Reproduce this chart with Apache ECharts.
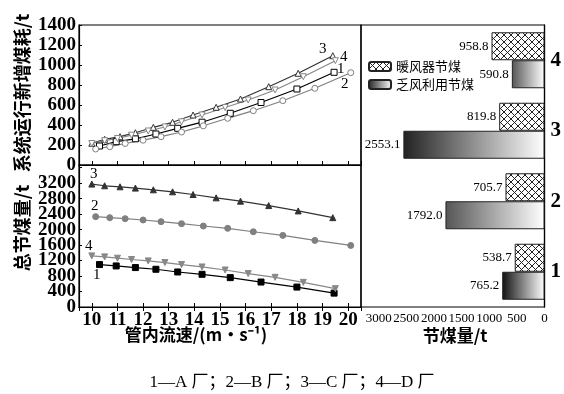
<!DOCTYPE html>
<html>
<head>
<meta charset="utf-8">
<script src="https://cdn.jsdelivr.net/npm/echarts@6/dist/echarts.min.js"></script>
<style>
  html, body { margin: 0; padding: 0; background: #fff; }
  #chart { width: 564px; height: 394px; }
</style>
</head>
<body>
<div id="chart"></div>
<script>
  // 管内流速 (m/s), one list per plant
  const speed1 = [10.3, 10.95, 11.7, 12.5, 13.35, 14.3, 15.4, 16.6, 18.0, 19.45]
  const speed2 = [10.15, 10.7, 11.3, 12.0, 12.7, 13.5, 14.35, 15.3, 16.3, 17.45, 18.7, 20.1]
  const speed3 = [10.0, 10.5, 11.1, 11.7, 12.4, 13.15, 13.95, 14.85, 15.8, 16.9, 18.05, 19.4]
  const speed4 = [10.0, 10.5, 11.0, 11.55, 12.2, 12.85, 13.5, 14.3, 15.2, 16.1, 17.15, 18.25, 19.5]

  // 系统运行新增煤耗 / t
  const addCoal1 = [190, 233, 262, 310, 367, 428, 517, 625, 760, 927]
  const addCoal2 = [160, 183, 215, 248, 283, 330, 392, 467, 543, 643, 767, 923]
  const addCoal3 = [217, 257, 283, 323, 377, 427, 500, 577, 660, 783, 917, 1093]
  const addCoal4 = [215, 243, 265, 298, 340, 380, 432, 500, 575, 650, 750, 883, 1043]

  // 总节煤量 / t
  const saveCoal1 = [1097, 1061, 1019, 975, 905, 845, 759, 645, 515, 359]
  const saveCoal2 = [2335, 2309, 2283, 2249, 2205, 2153, 2093, 2033, 1945, 1851, 1721, 1591]
  const saveCoal3 = [3177, 3133, 3107, 3073, 3029, 2977, 2907, 2821, 2735, 2621, 2483, 2309]
  const saveCoal4 = [1321, 1295, 1261, 1227, 1191, 1149, 1097, 1035, 957, 863, 767, 637, 473]

  // 节煤量 bars
  const plants = ['1', '2', '3', '4']
  const heaterSave = [538.7, 705.7, 819.8, 958.8]
  const exhaustSave = [765.2, 1792.0, 2553.1, 590.8]

  const serif = 'Liberation Serif, Noto Sans CJK SC'

  function zip (xs, ys) {
    return xs.map((x, i) => [x, ys[i]])
  }

  // cross hatch pattern for 暖风器节煤
  let hatch = document.createElement('canvas')
  hatch.width = 7
  hatch.height = 7
  let ctx = hatch.getContext('2d')
  ctx.fillStyle = '#fff'
  ctx.fillRect(0, 0, 7, 7)
  ctx.strokeStyle = '#222'
  ctx.lineWidth = 1
  ctx.beginPath()
  ctx.moveTo(0, 0); ctx.lineTo(7, 7)
  ctx.moveTo(7, 0); ctx.lineTo(0, 7)
  ctx.stroke()

  const gradStart = ['#111', '#555', '#222', '#555']
  function grad (c) {
    return new echarts.graphic.LinearGradient(0, 0, 1, 0, [
      {offset: 0, color: c},
      {offset: 1, color: '#fff'}
    ])
  }

  function xValueAxis (grid, showLabel, position) {
    return {
      type: 'value',
      gridIndex: grid,
      position: position,
      min: 9.5,
      max: 20.5,
      minInterval: 1,
      maxInterval: 1,
      axisLine: {lineStyle: {color: '#000', width: 1.2}},
      axisTick: {inside: true, length: 4, lineStyle: {color: '#000'}},
      axisLabel: {
        show: showLabel, showMinLabel: false, showMaxLabel: false,
        color: '#000', fontFamily: serif, fontSize: 19, fontWeight: 'bold', margin: 4,
        formatter: (v) => String(v)
      },
      splitLine: {show: false}
    }
  }

  function yValueAxis (grid, max, interval, labelFn, visible) {
    return {
      type: 'value',
      gridIndex: grid,
      position: 'left',
      min: 0,
      max: max,
      interval: interval,
      axisLine: {show: visible, lineStyle: {color: '#000', width: 1.2}},
      axisTick: {show: visible, inside: true, length: 3, lineStyle: {color: '#000'}},
      axisLabel: {
        showMinLabel: true, showMaxLabel: true, hideOverlap: false,
        color: '#000', fontFamily: serif, fontSize: 19, fontWeight: 'bold', lineHeight: 12, margin: 3,
        formatter: labelFn
      },
      splitLine: {show: false}
    }
  }

  function lineSeries (xs, ys, grid, color, symbol, rotate, filled) {
    return {
      type: 'line',
      xAxisIndex: grid === 0 ? 0 : 1,
      yAxisIndex: grid,
      data: zip(xs, ys),
      symbol: symbol,
      symbolRotate: rotate,
      symbolSize: 6,
      showAllSymbol: true,
      lineStyle: {color: color, width: 1.2},
      itemStyle: {color: filled ? color : '#fff', borderColor: color, borderWidth: 1},
      silent: true
    }
  }

  function note (text, x, y) {
    return {
      type: 'text', left: x, top: y,
      style: {text: text, font: '15px Liberation Serif', fill: '#000'}
    }
  }

  let chart = echarts.init(document.getElementById('chart'))
  let options = {
    animation: false,
    backgroundColor: '#fff',
    grid: [
      {left: 79, top: 25, width: 282, height: 140, show: true, borderColor: '#000', borderWidth: 1.2},
      {left: 79, top: 165, width: 282, height: 142, show: true, borderColor: '#000', borderWidth: 1.2},
      {left: 361, top: 25, width: 188, height: 282, show: true, borderColor: '#000', borderWidth: 1.2}
    ],
    legend: {
      orient: 'vertical',
      left: 363,
      top: 55,
      itemWidth: 22,
      itemHeight: 9,
      itemGap: 5,
      data: ['暖风器节煤', '乏风利用节煤'],
      textStyle: {fontFamily: 'Noto Sans CJK SC', fontSize: 13, color: '#000'}
    },
    xAxis: [
      xValueAxis(0, false, 'bottom'),
      xValueAxis(1, true, 'bottom'),
      xValueAxis(1, false, 'top'),
      {
        type: 'value',
        gridIndex: 2,
        inverse: true,
        min: 0,
        max: 3320,
        interval: 500,
        axisLine: {lineStyle: {color: '#000', width: 1.2}},
        axisTick: {inside: true, length: 4, lineStyle: {color: '#000'}},
        axisLabel: {showMinLabel: true, showMaxLabel: false, hideOverlap: false, color: '#000', fontFamily: serif,
          fontSize: 13, margin: 5, formatter: (v) => String(v)},
        splitLine: {show: false}
      }
    ],
    yAxis: [
      yValueAxis(0, 1400, 200, (v) => String(v), true),
      yValueAxis(1, 3670, 400, (v) => (v === 0 || v > 3200 ? '' : String(v)), true),
      {
        type: 'category',
        gridIndex: 2,
        position: 'right',
        data: plants,
        axisLine: {lineStyle: {color: '#000', width: 1.2}},
        axisTick: {show: false},
        axisLabel: {color: '#000', fontFamily: serif, fontSize: 21, fontWeight: 'bold', margin: 6}
      },
      // carries only the "0" label of the lower panel
      yValueAxis(1, 3670, 400, (v) => (v === 0 ? '0' : ''), false)
    ],
    graphic: [
      {type: 'text', x: 22, y: 93, rotation: Math.PI / 2,
        style: {text: '系统运行新增煤耗/t', font: 'bold 18px Noto Sans CJK SC', fill: '#000', align: 'center', verticalAlign: 'middle'}},
      {type: 'text', x: 22, y: 228, rotation: Math.PI / 2,
        style: {text: '总节煤量/t', font: 'bold 18px Noto Sans CJK SC', fill: '#000', align: 'center', verticalAlign: 'middle'}},
      {type: 'text', x: 196, y: 335,
        style: {text: '管内流速/(m·s⁻¹)', font: 'bold 17px Noto Sans CJK SC', fill: '#000', align: 'center', verticalAlign: 'middle'}},
      {type: 'text', x: 455, y: 336,
        style: {text: '节煤量/t', font: 'bold 17px Noto Sans CJK SC', fill: '#000', align: 'center', verticalAlign: 'middle'}},
      {type: 'text', x: 292, y: 383,
        style: {text: '1—A 厂；2—B 厂；3—C 厂；4—D 厂', font: '17px Liberation Serif, Noto Sans CJK SC', fill: '#000', align: 'center', verticalAlign: 'middle'}},
      note('3', 319, 42),
      note('4', 340, 50),
      note('1', 337, 62),
      note('2', 341, 77),
      note('3', 90, 167),
      note('2', 91, 199),
      note('4', 85, 239),
      note('1', 93, 268)
    ],
    series: [
      lineSeries(speed1, addCoal1, 0, '#000', 'rect', 0, false),
      lineSeries(speed2, addCoal2, 0, '#808080', 'circle', 0, false),
      lineSeries(speed3, addCoal3, 0, '#333', 'triangle', 0, false),
      lineSeries(speed4, addCoal4, 0, '#888', 'triangle', 180, false),
      lineSeries(speed1, saveCoal1, 1, '#000', 'rect', 0, true),
      lineSeries(speed2, saveCoal2, 1, '#808080', 'circle', 0, true),
      lineSeries(speed3, saveCoal3, 1, '#333', 'triangle', 0, true),
      lineSeries(speed4, saveCoal4, 1, '#888', 'triangle', 180, true),
      {
        name: '暖风器节煤',
        type: 'bar',
        xAxisIndex: 3,
        yAxisIndex: 2,
        barWidth: 28,
        barGap: '0%',
        data: heaterSave,
        itemStyle: {color: {image: hatch, repeat: 'repeat'}, borderColor: '#222', borderWidth: 1},
        label: {show: true, position: 'left', distance: 3, color: '#000', fontFamily: serif, fontSize: 13,
          formatter: (p) => p.value.toFixed(1)}
      },
      {
        name: '乏风利用节煤',
        type: 'bar',
        xAxisIndex: 3,
        yAxisIndex: 2,
        barWidth: 28,
        barGap: '0%',
        data: exhaustSave.map((v, i) => ({value: v, itemStyle: {color: grad(gradStart[i])}})),
        itemStyle: {color: grad('#222'), borderColor: '#222', borderWidth: 1},
        label: {show: true, position: 'left', distance: 3, color: '#000', fontFamily: serif, fontSize: 13,
          formatter: (p) => p.value.toFixed(1)}
      }
    ]
  }
  chart.setOption(options)
</script>
</body>
</html>
